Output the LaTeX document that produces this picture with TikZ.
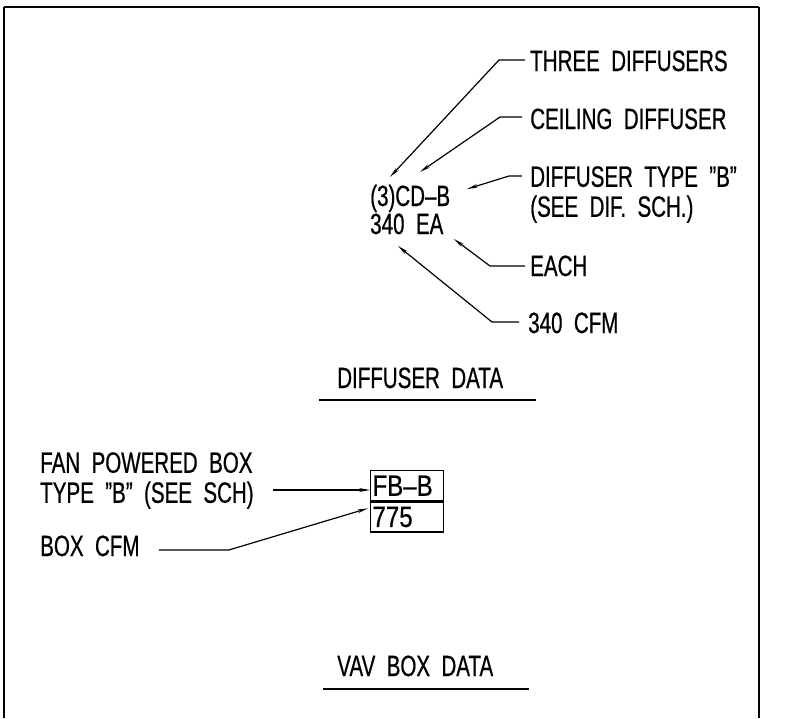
\documentclass[tikz,border=0pt]{standalone}
\usepackage{fontspec}
\newfontfamily\cadfont[FakeStretch=0.70,WordSpace=2,FakeBold=0.6]{Liberation Sans}
\newfontfamily\cellfont[FakeStretch=0.82,FakeBold=0.6]{Liberation Sans}
\usetikzlibrary{arrows.meta,calc}
\begin{document}
\begin{tikzpicture}[x=0.75pt,y=-0.75pt,
  txt/.style={font=\cadfont\fontsize{22}{22.5}\selectfont},
  lbl/.style={txt, inner sep=0pt, anchor=base west},
  lbl2/.style={txt, inner sep=0pt, anchor=north west, align=left},
  leader/.style={line width=0.9pt, -{Stealth[length=8pt,width=2.8pt]}},
  frameside/.style={line width=2pt},
  frametop/.style={line width=1.3pt},
  uline/.style={line width=1pt},
  cell/.style={font=\cellfont\fontsize{22}{22.5}\selectfont, draw, line width=1pt,
    inner xsep=1.4pt, inner ysep=0pt, minimum height=22.5pt,
    text width=52pt, align=left, anchor=north west}]
\useasboundingbox (0,0) rectangle (805,718);
% frame
\draw[frameside] (4,718) -- (4,7);
\draw[frameside] (759,7) -- (759,718);
\draw[frametop] (4,7) -- (759,7);

% diffuser data
\node[lbl] (cdb) at (370,206) {(3)CD–B};
\node[lbl] (ea) at (370,234) {340 EA};
\node[lbl] (three) at (530,71) {THREE DIFFUSERS};
\node[lbl] (ceil) at (530,129) {CEILING DIFFUSER};
\node[lbl2] (dtype) at (530,166) {DIFFUSER TYPE ”B”\\(SEE DIF. SCH.)};
\node[lbl] (each) at (530,276) {EACH};
\node[lbl] (cfm) at (528,333) {340 CFM};
\node[lbl] (dd) at (337,388) {DIFFUSER DATA};

\coordinate (tThree) at (390,177);
\coordinate (tCeil) at (420,172);
\coordinate (tType) at (467,189);
\coordinate (tEach) at (454,239);
\coordinate (tCfm) at (398,246);

\draw[leader] ($(three.base west)+(-5,-11)$) -- ++(-26,0) -- (tThree);
\draw[leader] ($(ceil.base west)+(-8,-12)$) -- ++(-22,0) -- (tCeil);
\draw[leader] ($(dtype.north west)+(-8,10)$) -- ++(-13,0) -- (tType);
\draw[leader] ($(each.base west)+(-5,-10)$) -- ++(-35,0) -- (tEach);
\draw[leader] ($(cfm.base west)+(-9,-11)$) -- ++(-27,0) -- (tCfm);

\draw[uline] ($(dd.base west)+(-18,12)$) -- ($(dd.base east)+(33,12)$);

% vav box data
\node[lbl2] (fan) at (40,452) {FAN POWERED BOX\\TYPE ”B” (SEE SCH)};
\node[lbl] (boxcfm) at (40,556) {BOX CFM};
\node[cell] (fbb) at (370,470) {FB–B};
\node[cell] (val) at (fbb.south west) {775};

\coordinate (fanTail) at (273,490);
\coordinate (tVal) at ($(val.north west)+(-2,7)$);
\draw[leader] (fanTail) -- (fbb.west |- fanTail);
\draw[leader] ($(boxcfm.base east)+(19,-6)$) -- ++(70,0) -- (tVal);

\node[lbl] (vav) at (337,676) {VAV BOX DATA};
\draw[uline] ($(vav.base west)+(-14,13)$) -- ($(vav.base east)+(36,13)$);
\end{tikzpicture}
\end{document}
